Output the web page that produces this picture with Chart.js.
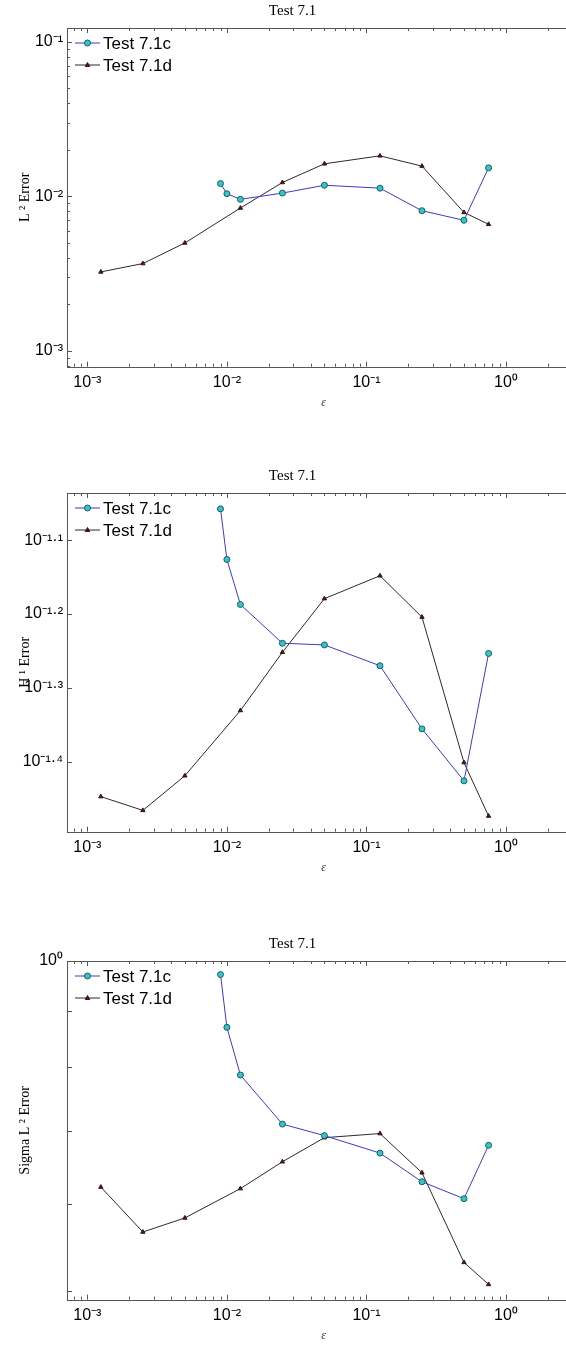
<!DOCTYPE html>
<html>
<head>
<meta charset="utf-8">
<script src="https://cdn.jsdelivr.net/npm/chart.js@4.4.1/dist/chart.umd.min.js"></script>
<style>
  html, body { margin: 0; padding: 0; background: #fff; }
  body { width: 566px; height: 1345px; position: relative; overflow: hidden; }
  .panel { position: absolute; left: 0; width: 566px; height: 412px; overflow: hidden; }
  .panel canvas { display: block; }
</style>
</head>
<body>
<div class="panel" style="top:0px"><canvas id="cL2" width="600" height="412"></canvas></div>
<div class="panel" style="top:465px"><canvas id="cH1" width="600" height="412"></canvas></div>
<div class="panel" style="top:933px"><canvas id="cSig" width="600" height="412"></canvas></div>
<script>
// epsilon values of the two runs
var epsC = [0.009, 0.01, 0.0125, 0.025, 0.05, 0.125, 0.25, 0.5, 0.75];
var epsD = [0.00125, 0.0025, 0.005, 0.0125, 0.025, 0.05, 0.125, 0.25, 0.5, 0.75];

// L2 error
var l2C = [0.0121, 0.0104, 0.00956, 0.0105, 0.0118, 0.0113, 0.00807, 0.0070, 0.0153];
var l2D = [0.00324, 0.00367, 0.00499, 0.0084, 0.0123, 0.01625, 0.0183, 0.0157, 0.00787, 0.00659];

// H1 error
var h1C = [0.0876, 0.0748, 0.0650, 0.0576, 0.0573, 0.0537, 0.0441, 0.0375, 0.0558];
var h1D = [0.0357, 0.0342, 0.0381, 0.0467, 0.0560, 0.0662, 0.0711, 0.0625, 0.0397, 0.0336];

// Sigma L2 error
var sigC = [0.972, 0.870, 0.787, 0.710, 0.693, 0.668, 0.629, 0.607, 0.679];
var sigD = [0.622, 0.566, 0.583, 0.620, 0.656, 0.690, 0.696, 0.641, 0.531, 0.507];

// ticks (major values + their labels)
var xTicks = [0.001, 0.01, 0.1, 1];
var xTickLabels = ['10⁻³', '10⁻²', '10⁻¹', '10⁰'];
var l2Ticks = [0.001, 0.01, 0.1];
var l2TickLabels = ['10⁻³', '10⁻²', '10⁻¹'];
var h1TickExps = [-1.4, -1.3, -1.2, -1.1];
var h1TickLabels = ['10⁻¹·⁴', '10⁻¹·³', '10⁻¹·²', '10⁻¹·¹'];
var sigTicks = [0.5, 0.6, 0.7, 0.8, 0.9, 1];
var sigTickLabels = ['', '', '', '', '', '10⁰'];

var tickFont = { family: '"Liberation Sans", Arial, sans-serif', size: 16 };
var serif = '"Liberation Serif", "Times New Roman", serif';

// minor ticks 2..9 of every decade in [min, max]
function decadeMinors(min, max) {
  var out = [];
  for (var e = Math.floor(Math.log10(min)); e <= Math.ceil(Math.log10(max)); e++) {
    for (var m = 2; m <= 9; m++) {
      var v = m * Math.pow(10, e);
      if (v >= min && v <= max) out.push(v);
    }
  }
  return out;
}

function tickList(majors, minors) {
  var t = majors.map(function (v) { return { value: v, big: true }; });
  minors.forEach(function (v) { t.push({ value: v, big: false }); });
  t.sort(function (a, b) { return a.value - b.value; });
  return t;
}

function labelFor(majors, labels) {
  return function (value) {
    for (var i = 0; i < majors.length; i++) {
      if (Math.abs(majors[i] - value) / majors[i] < 1e-6) return labels[i];
    }
    return '';
  };
}

// box + inward tick marks like the matlab axes
var framePlugin = {
  id: 'frame',
  beforeDatasetsDraw: function (chart) {
    var ctx = chart.ctx, a = chart.chartArea;
    var xs = chart.scales.x, ys = chart.scales.y;
    ctx.save();
    ctx.strokeStyle = '#555';
    ctx.lineWidth = 1;
    ctx.strokeRect(Math.round(a.left) + 0.5, Math.round(a.top) + 0.5, Math.round(a.right - a.left), Math.round(a.bottom - a.top));
    ctx.beginPath();
    xs.ticks.forEach(function (t) {
      var px = Math.round(xs.getPixelForValue(t.value)) + 0.5;
      var len = t.big ? 5 : 3;
      ctx.moveTo(px, a.bottom); ctx.lineTo(px, a.bottom - len);
      ctx.moveTo(px, a.top); ctx.lineTo(px, a.top + len);
    });
    ys.ticks.forEach(function (t) {
      var py = Math.round(ys.getPixelForValue(t.value)) + 0.5;
      var len = t.big ? 5 : 3;
      ctx.moveTo(a.left, py); ctx.lineTo(a.left + len, py);
      ctx.moveTo(a.right, py); ctx.lineTo(a.right - len, py);
    });
    ctx.stroke();
    ctx.restore();
  }
};

function drawMarker(ctx, style, x, y, r) {
  ctx.beginPath();
  if (style === 'triangle') {
    ctx.moveTo(x, y - r);
    ctx.lineTo(x + r * 0.9, y + r * 0.6);
    ctx.lineTo(x - r * 0.9, y + r * 0.6);
    ctx.closePath();
  } else {
    ctx.arc(x, y, r, 0, Math.PI * 2);
  }
  ctx.fill();
  ctx.stroke();
}

// legend in the top left corner of the plot: line, marker, text
var legendPlugin = {
  id: 'matLegend',
  afterDraw: function (chart) {
    var ctx = chart.ctx, a = chart.chartArea;
    chart.data.datasets.forEach(function (ds, i) {
      var y = a.top + 15 + i * 22;
      var x0 = a.left + 8, x1 = a.left + 33;
      ctx.save();
      ctx.strokeStyle = ds.borderColor;
      ctx.lineWidth = 1;
      ctx.beginPath(); ctx.moveTo(x0, y); ctx.lineTo(x1, y); ctx.stroke();
      ctx.fillStyle = ds.pointBackgroundColor;
      ctx.strokeStyle = ds.pointBorderColor;
      drawMarker(ctx, ds.pointStyle, (x0 + x1) / 2, y, ds.pointRadius);
      ctx.fillStyle = '#000';
      ctx.font = '17px "Liberation Sans", Arial, sans-serif';
      ctx.textBaseline = 'middle';
      ctx.fillText(ds.label, x1 + 3, y + 1);
      ctx.restore();
    });
  }
};

function makeChart(id, yTitle, cVals, dVals, yMin, yMax, yMajors, yLabels, yMinors) {
  var xMin = 0.000715, xMax = 3.39;
  var xMinors = decadeMinors(xMin, xMax);
  return new Chart(document.getElementById(id), {
    type: 'line',
    data: {
      datasets: [{
        label: 'Test 7.1c',
        data: epsC.map(function (x, i) { return { x: x, y: cVals[i] }; }),
        borderColor: '#3b3bc4',
        borderWidth: 1,
        pointStyle: 'circle',
        pointRadius: 3,
        pointBackgroundColor: '#33c6c6',
        pointBorderColor: '#1d5c66',
        pointBorderWidth: 1,
        tension: 0,
        fill: false
      }, {
        label: 'Test 7.1d',
        data: epsD.map(function (x, i) { return { x: x, y: dVals[i] }; }),
        borderColor: '#2a2a2a',
        borderWidth: 1,
        pointStyle: 'triangle',
        pointRadius: 2.5,
        pointBackgroundColor: '#4a1c1c',
        pointBorderColor: '#3a1212',
        pointBorderWidth: 1,
        tension: 0,
        fill: false
      }]
    },
    options: {
      responsive: false,
      animation: false,
      events: [],
      layout: { padding: { left: 5, right: 20, top: 0, bottom: 0 } },
      plugins: {
        legend: { display: false },
        tooltip: { enabled: false },
        title: {
          display: true,
          text: 'Test 7.1',
          color: '#000',
          font: { family: serif, size: 15, weight: 'normal' },
          padding: { top: 2, bottom: 8 }
        }
      },
      scales: {
        x: {
          type: 'logarithmic',
          min: xMin,
          max: xMax,
          grid: { display: false, drawTicks: false, tickLength: 0 },
          border: { display: false },
          afterBuildTicks: function (scale) { scale.ticks = tickList(xTicks, xMinors); },
          afterFit: function (scale) { scale.height = 45.3; },
          ticks: {
            autoSkip: false, maxRotation: 0, minRotation: 0, padding: 6,
            color: '#000', font: tickFont,
            callback: labelFor(xTicks, xTickLabels)
          },
          title: {
            display: true, text: 'ε', color: '#333',
            font: { family: serif, size: 12, style: 'italic' },
            padding: { top: 0, bottom: 2 }
          }
        },
        y: {
          type: 'logarithmic',
          min: yMin,
          max: yMax,
          grid: { display: false, drawTicks: false, tickLength: 0 },
          border: { display: false },
          afterBuildTicks: function (scale) { scale.ticks = tickList(yMajors, yMinors); },
          afterFit: function (scale) { scale.width = 62; },
          ticks: {
            autoSkip: false, padding: 4,
            color: '#000', font: tickFont,
            callback: labelFor(yMajors, yLabels)
          },
          title: {
            display: true, text: yTitle, color: '#000',
            font: { family: serif, size: 14 },
            padding: { top: 12, bottom: 0 }
          }
        }
      }
    },
    plugins: [framePlugin, legendPlugin]
  });
}

var h1Ticks = h1TickExps.map(function (e) { return Math.pow(10, e); });

makeChart('cL2', 'L ² Error', l2C, l2D, 0.000788, 0.1232, l2Ticks, l2TickLabels, decadeMinors(0.000788, 0.1232));
makeChart('cH1', 'H ¹ Error', h1C, h1D, 0.03201, 0.09204, h1Ticks, h1TickLabels, []);
makeChart('cSig', 'Sigma L ² Error', sigC, sigD, 0.491, 1.0, sigTicks, sigTickLabels, []);
</script>
</body>
</html>
